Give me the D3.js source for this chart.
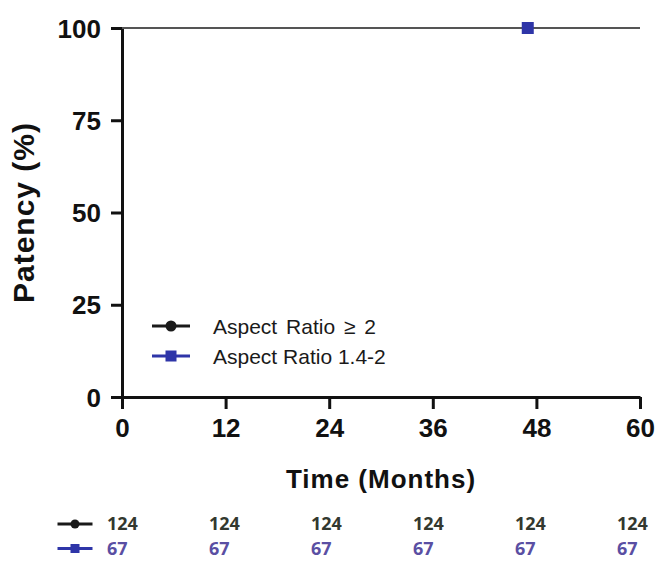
<!DOCTYPE html>
<html lang="en">
	<head>
		<meta charset="utf-8">
		<title>Patency</title>
		<script src="https://d3js.org/d3.v7.min.js"></script>
		<style>
			body { margin: 0; background: #fff; }
			text { font-family: "Liberation Sans", Arial, sans-serif; }
			text.risk { font-family: "Open Sans", sans-serif; }
		</style>
	</head>
	<body>
		<div id="chart"></div>
		<script>

			// data
			var seriesNames = ['Aspect Ratio \u2265 2', 'Aspect Ratio 1.4-2'];
			var times = [0, 60];
			var patencyHigh = [100, 100];
			var patencyLow = [100, 100];
			var censorHigh = [];
			var censorLow = [47];
			var xTicks = [0, 12, 24, 36, 48, 60];
			var yTicks = [0, 25, 50, 75, 100];
			var riskHigh = [124, 124, 124, 124, 124, 124];
			var riskLow = [67, 67, 67, 67, 67, 67];

			var w = 657, h = 561;
			var colors = ['#1a1a1a', '#2e35a8'];
			var riskColors = ['#33382f', '#5a4fa3'];

			var svg = d3.select('#chart')
				.append('svg')
				.attr('width', w)
				.attr('height', h);

			var x = d3.scaleLinear().domain([0, 60]).range([122, 640]);
			var y = d3.scaleLinear().domain([0, 100]).range([397, 28]);

			// axes
			var xAxis = svg.append('g')
				.attr('transform', 'translate(0,' + y(0) + ')')
				.call(d3.axisBottom(x).tickValues(xTicks).tickSize(12).tickPadding(10).tickSizeOuter(0));
			var yAxis = svg.append('g')
				.attr('transform', 'translate(' + x(0) + ',0)')
				.call(d3.axisLeft(y).tickValues(yTicks).tickSize(11).tickPadding(10).tickSizeOuter(0));

			[xAxis, yAxis].forEach(function (g) {
				g.select('.domain').attr('stroke', '#111').attr('stroke-width', 3);
				g.selectAll('.tick line').attr('stroke', '#111').attr('stroke-width', 3);
				g.selectAll('.tick text')
					.attr('fill', '#111')
					.style('font-size', '26px')
					.style('font-weight', 'bold');
			});
			yAxis.selectAll('.tick text').attr('dy', '0.35em');

			// axis titles
			svg.append('text')
				.attr('x', (x(0) + x(60)) / 2)
				.attr('y', 488)
				.attr('text-anchor', 'middle')
				.attr('fill', '#111')
				.style('font-size', '26px')
				.style('letter-spacing', '1px')
				.style('font-weight', 'bold')
				.text('Time (Months)');

			svg.append('text')
				.attr('transform', 'translate(34,' + y(50) + ') rotate(-90)')
				.attr('text-anchor', 'middle')
				.attr('fill', '#111')
				.style('font-size', '30px')
				.style('letter-spacing', '1px')
				.style('font-weight', 'bold')
				.text('Patency (%)');

			// survival curves (step lines)
			var line = d3.line()
				.x(function (d) { return x(d[0]); })
				.y(function (d) { return y(d[1]); })
				.curve(d3.curveStepAfter);

			var curves = [
				d3.zip(times, patencyHigh),
				d3.zip(times, patencyLow)
			];
			svg.selectAll('path.curve')
				.data(curves.slice().reverse())
				.enter()
				.append('path')
				.attr('class', 'curve')
				.attr('d', line)
				.attr('fill', 'none')
				.attr('stroke', '#555')
				.attr('stroke-width', 2);

			// censor marks
			svg.selectAll('circle.censor')
				.data(censorHigh)
				.enter()
				.append('circle')
				.attr('class', 'censor')
				.attr('cx', function (d) { return x(d); })
				.attr('cy', y(100))
				.attr('r', 5)
				.attr('fill', colors[0]);

			svg.selectAll('rect.censor')
				.data(censorLow)
				.enter()
				.append('rect')
				.attr('class', 'censor')
				.attr('x', function (d) { return x(d) - 6; })
				.attr('y', y(100) - 6)
				.attr('width', 12)
				.attr('height', 12)
				.attr('fill', colors[1]);

			// marker helper for legend and risk table
			function marker(g, i, cx, cy, len, size) {
				g.append('line')
					.attr('x1', cx - len / 2).attr('x2', cx + len / 2)
					.attr('y1', cy).attr('y2', cy)
					.attr('stroke', colors[i])
					.attr('stroke-width', 3);
				if (i == 0) {
					g.append('circle')
						.attr('cx', cx).attr('cy', cy)
						.attr('r', size / 2)
						.attr('fill', colors[i]);
				} else {
					g.append('rect')
						.attr('x', cx - size / 2).attr('y', cy - size / 2)
						.attr('width', size).attr('height', size)
						.attr('fill', colors[i]);
				}
			}

			// legend
			var legend = svg.append('g');
			var legendY = d3.scalePoint().domain([0, 1]).range([326, 356]);
			seriesNames.forEach(function (name, i) {
				marker(legend, i, 171, legendY(i), 38, 11);
				legend.append('text')
					.attr('x', 213)
					.attr('y', legendY(i))
					.attr('dy', '0.36em')
					.attr('fill', '#1a1a1a')
					.style('font-size', '21px')
					.style('word-spacing', i == 0 ? '3px' : '0px')
					.text(name);
			});

			// number at risk table
			var tx = d3.scaleLinear().domain([0, 60]).range([107, 617]);
			var rowY = d3.scalePoint().domain([0, 1]).range([524, 548.5]);
			var table = svg.append('g');
			[riskHigh, riskLow].forEach(function (row, i) {
				marker(table, i, 75, rowY(i), 35, 9);
				table.selectAll('text.r' + i)
					.data(row)
					.enter()
					.append('text')
					.attr('class', 'risk r' + i)
					.attr('x', function (d, j) { return tx(xTicks[j]); })
					.attr('y', rowY(i))
					.attr('dy', '0.36em')
					.attr('fill', riskColors[i])
					.style('font-size', '18px')
					.style('font-weight', 'bold')
					.text(function (d) { return d; });
			});

		</script>
	</body>
</html>
